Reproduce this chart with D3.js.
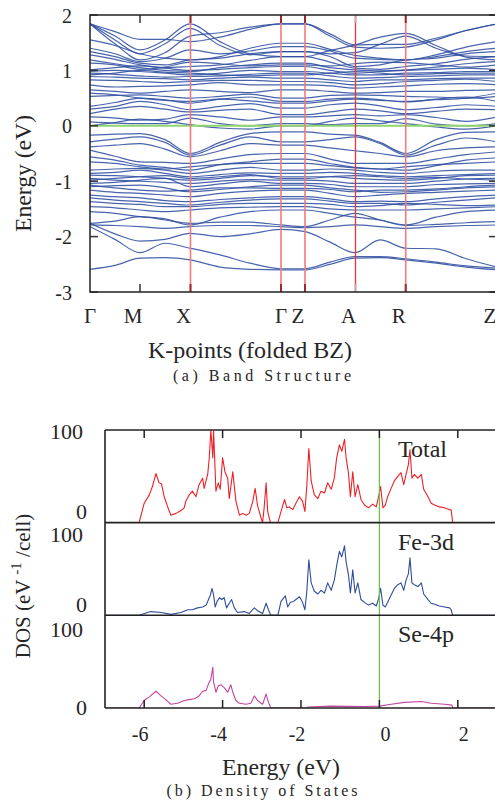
<!DOCTYPE html>
<html>
<head>
<meta charset="utf-8">
<script src="https://cdn.jsdelivr.net/npm/d3@7"></script>
<style>
  body { margin: 0; background: #fff; }
  text { font-family: "Liberation Serif", "Times New Roman", serif; fill: #262626; }
</style>
</head>
<body>
<svg width="495" height="802"></svg>
<script>
// ---- band structure data (path length units along the folded BZ path) ----
const kSamples = [0, 25, 50, 75, 100, 130, 160, 191, 215, 240, 265, 290, 316, 346, 376, 407];
const kLabels = ["Γ", "M", "X", "Γ", "Z", "A", "R", "Z"];
const kLabelPos = [0, 50, 100.5, 191, 215, 265.5, 315.7, 407];
const kGuides = [100.5, 191, 215, 265.5, 315.7];
const energyTicks = [-3, -2, -1, 0, 1, 2];

// energies (eV) of each band at kSamples
const bands = [
  [1.84,1.70,1.56,1.56,1.52,1.60,1.74,1.84, 1.84,1.66,1.46,1.47,1.47,1.58,1.72,1.84],
  [1.84,1.62,1.37,1.55,1.84,1.52,1.30,1.25, 1.25,1.36,1.46,1.60,1.67,1.45,1.24,1.19],
  [1.84,1.55,1.30,1.48,1.76,1.45,1.28,1.34, 1.34,1.30,1.32,1.47,1.62,1.40,1.26,1.25],
  [1.84,1.48,1.19,1.32,1.62,1.68,1.78,1.84, 1.84,1.62,1.42,1.40,1.42,1.55,1.72,1.84],
  [1.55,1.45,1.30,1.22,1.19,1.25,1.40,1.49, 1.49,1.38,1.27,1.22,1.19,1.28,1.42,1.52],
  [1.40,1.30,1.16,1.22,1.37,1.30,1.35,1.43, 1.43,1.35,1.22,1.20,1.19,1.25,1.34,1.40],
  [1.34,1.25,1.13,1.10,1.19,1.22,1.30,1.34, 1.34,1.25,1.07,1.10,1.19,1.22,1.30,1.34],
  [1.28,1.20,1.10,1.05,1.07,1.10,1.18,1.25, 1.25,1.15,1.04,1.02,1.07,1.12,1.20,1.25],
  [1.19,1.12,1.05,1.00,0.98,1.05,1.10,1.13, 1.13,1.05,1.01,0.99,1.01,1.06,1.12,1.16],
  [1.13,1.10,1.02,1.06,1.15,1.12,1.08,1.10, 1.10,1.08,1.12,1.15,1.14,1.10,1.06,1.10],
  [1.01,1.05,1.08,1.04,1.00,1.02,1.05,1.07, 1.07,1.00,0.95,0.98,1.00,1.02,1.04,1.01],
  [0.98,1.00,0.98,0.95,0.92,0.95,1.00,0.98, 0.98,0.95,0.92,0.92,0.95,0.96,0.98,0.98],
  [0.95,0.93,0.90,0.88,0.89,0.90,0.93,0.95, 0.95,0.90,0.86,0.87,0.89,0.90,0.92,0.92],
  [0.92,0.95,1.00,0.97,0.95,0.92,0.90,0.92, 0.92,0.95,0.98,0.95,0.92,0.94,0.95,0.95],
  [0.89,0.88,0.86,0.85,0.83,0.86,0.88,0.86, 0.86,0.83,0.80,0.83,0.83,0.85,0.86,0.86],
  [0.83,0.82,0.80,0.78,0.80,0.82,0.82,0.80, 0.80,0.78,0.74,0.76,0.80,0.82,0.84,0.80],
  [0.74,0.70,0.71,0.72,0.74,0.78,0.74,0.74, 0.74,0.72,0.68,0.70,0.72,0.75,0.76,0.74],
  [0.65,0.62,0.59,0.62,0.65,0.62,0.60,0.65, 0.65,0.62,0.59,0.60,0.62,0.62,0.64,0.65],
  [0.59,0.56,0.50,0.46,0.44,0.48,0.45,0.41, 0.41,0.45,0.48,0.46,0.44,0.47,0.50,0.59],
  [0.53,0.55,0.56,0.53,0.50,0.53,0.57,0.50, 0.50,0.55,0.56,0.55,0.53,0.52,0.50,0.53],
  [0.35,0.42,0.50,0.47,0.41,0.48,0.52,0.44, 0.44,0.48,0.50,0.47,0.43,0.48,0.52,0.44],
  [0.30,0.35,0.44,0.38,0.29,0.35,0.40,0.32, 0.32,0.38,0.41,0.36,0.29,0.33,0.38,0.35],
  [0.22,0.30,0.35,0.30,0.25,0.28,0.30,0.20, 0.20,0.25,0.30,0.27,0.22,0.26,0.30,0.29],
  [0.16,0.14,0.10,0.12,0.20,0.16,0.10,0.16, 0.16,0.18,0.20,0.18,0.20,0.15,0.08,0.16],
  [0.07,0.05,0.04,0.04,0.14,0.04,0.00,0.04, 0.04,0.02,0.04,0.04,0.13,0.03,0.00,0.04],
  [0.00,0.06,0.12,0.08,0.02,-0.04,-0.06,0.00, 0.00,0.08,0.14,0.09,0.04,-0.02,-0.06,0.00],
  [-0.17,-0.15,-0.14,-0.25,-0.50,-0.30,-0.14,-0.11, -0.11,-0.15,-0.17,-0.30,-0.50,-0.25,-0.12,-0.11],
  [-0.29,-0.24,-0.20,-0.30,-0.53,-0.35,-0.20,-0.29, -0.29,-0.25,-0.20,-0.32,-0.53,-0.35,-0.22,-0.29],
  [-0.38,-0.35,-0.32,-0.42,-0.56,-0.45,-0.32,-0.35, -0.35,-0.40,-0.45,-0.50,-0.56,-0.45,-0.40,-0.38],
  [-0.44,-0.55,-0.65,-0.66,-0.68,-0.60,-0.52,-0.50, -0.50,-0.60,-0.68,-0.68,-0.68,-0.60,-0.52,-0.47],
  [-0.56,-0.62,-0.71,-0.75,-0.80,-0.70,-0.65,-0.60, -0.60,-0.68,-0.75,-0.78,-0.80,-0.72,-0.62,-0.58],
  [-0.65,-0.68,-0.74,-0.78,-0.74,-0.70,-0.68,-0.68, -0.68,-0.72,-0.76,-0.78,-0.74,-0.70,-0.68,-0.65],
  [-0.80,-0.78,-0.77,-0.80,-0.86,-0.80,-0.75,-0.80, -0.80,-0.78,-0.80,-0.84,-0.86,-0.82,-0.80,-0.80],
  [-0.86,-0.84,-0.80,-0.86,-0.92,-0.88,-0.85,-0.86, -0.86,-0.84,-0.86,-0.90,-0.92,-0.90,-0.88,-0.86],
  [-0.89,-0.90,-0.92,-0.95,-0.98,-0.95,-0.90,-0.92, -0.92,-0.92,-0.95,-0.97,-0.98,-0.95,-0.90,-0.89],
  [-0.98,-0.95,-0.92,-0.90,-0.95,-0.92,-0.88,-0.95, -0.95,-0.92,-0.90,-0.92,-0.95,-0.93,-0.96,-0.98],
  [-0.95,-0.98,-1.00,-1.02,-1.04,-1.00,-0.97,-0.98, -0.98,-1.00,-1.04,-1.04,-1.04,-1.00,-0.96,-0.95],
  [-1.04,-1.02,-0.98,-0.95,-1.10,-1.05,-1.00,-1.04, -1.04,-1.06,-1.10,-1.10,-1.10,-1.06,-1.05,-1.04],
  [-1.10,-1.08,-1.07,-1.12,-1.19,-1.15,-1.10,-1.07, -1.07,-1.12,-1.16,-1.20,-1.19,-1.16,-1.12,-1.10],
  [-1.07,-1.12,-1.16,-1.18,-1.16,-1.12,-1.12,-1.13, -1.13,-1.15,-1.19,-1.16,-1.16,-1.14,-1.10,-1.07],
  [-1.16,-1.20,-1.22,-1.25,-1.28,-1.22,-1.18,-1.16, -1.16,-1.22,-1.28,-1.25,-1.22,-1.20,-1.18,-1.16],
  [-1.25,-1.28,-1.30,-1.35,-1.37,-1.33,-1.30,-1.28, -1.28,-1.32,-1.37,-1.36,-1.37,-1.32,-1.28,-1.25],
  [-1.30,-1.34,-1.37,-1.40,-1.43,-1.38,-1.34,-1.32, -1.32,-1.36,-1.40,-1.40,-1.43,-1.38,-1.34,-1.30],
  [-1.37,-1.40,-1.42,-1.46,-1.46,-1.42,-1.40,-1.40, -1.40,-1.42,-1.46,-1.44,-1.40,-1.42,-1.44,-1.43],
  [-1.46,-1.48,-1.52,-1.55,-1.52,-1.48,-1.47,-1.46, -1.46,-1.50,-1.52,-1.52,-1.52,-1.50,-1.48,-1.46],
  [-1.55,-1.58,-1.64,-1.68,-1.79,-1.65,-1.55,-1.52, -1.52,-1.58,-1.65,-1.70,-1.79,-1.65,-1.55,-1.52],
  [-1.76,-1.72,-1.64,-1.70,-1.76,-1.74,-1.74,-1.79, -1.82,-1.70,-1.58,-1.70,-1.80,-1.78,-1.75,-1.73],
  [-1.79,-1.80,-1.82,-1.85,-1.82,-1.80,-1.80,-1.82, -1.84,-1.82,-1.79,-1.82,-1.85,-1.82,-1.80,-1.79],
  [-1.76,-1.95,-2.08,-2.05,-1.94,-2.00,-1.95,-1.87, -1.91,-2.10,-2.29,-2.06,-2.21,-2.22,-2.40,-2.55],
  [-1.82,-2.05,-2.29,-2.12,-2.21,-2.33,-2.48,-2.58, -2.58,-2.46,-2.36,-2.36,-2.40,-2.46,-2.53,-2.57],
  [-2.59,-2.52,-2.39,-2.38,-2.42,-2.55,-2.59,-2.60, -2.60,-2.50,-2.39,-2.38,-2.42,-2.48,-2.55,-2.60]
];

// ---- density of states data ----
const dosTicks = [-6, -4, -2, 0, 2];

const totalE = [-7,-6.13,-6.0,-5.87,-5.79,-5.70,-5.62,-5.56,-5.49,-5.40,-5.32,-5.19,-5.06,-4.98,-4.94,-4.85,-4.77,-4.68,-4.60,-4.51,-4.47,-4.38,-4.34,-4.30,-4.25,-4.23,-4.17,-4.11,-4.06,-4.00,-3.94,-3.87,-3.83,-3.74,-3.66,-3.57,-3.49,-3.40,-3.32,-3.23,-3.17,-3.11,-3.02,-2.98,-2.94,-2.89,-2.85,-2.78,-2.59,-2.51,-2.42,-2.36,-2.30,-2.21,-2.13,-2.04,-1.96,-1.90,-1.85,-1.80,-1.74,-1.66,-1.57,-1.49,-1.40,-1.32,-1.23,-1.15,-1.09,-1.02,-0.96,-0.89,-0.85,-0.79,-0.74,-0.68,-0.62,-0.55,-0.47,-0.38,-0.28,-0.17,-0.08,-0.02,0.03,0.09,0.15,0.21,0.30,0.38,0.47,0.55,0.62,0.68,0.74,0.78,0.83,0.89,0.98,1.07,1.13,1.24,1.32,1.41,1.53,1.66,1.79,1.83,1.87,3];
const totalDOS = [0,0,21,30,39,53,43,42,28,17,8,10,13,16,23,30,34,28,41,48,37,52,70,100,70,99,34,43,36,70,55,48,26,55,23,8,10,8,10,23,37,19,5,0,16,43,12,0,0,12,25,16,17,14,21,28,23,12,41,80,45,30,26,34,32,43,36,48,70,84,77,90,70,54,28,55,28,41,25,19,16,20,17,28,39,16,19,28,37,45,50,54,41,52,63,79,48,52,48,52,36,28,21,19,17,16,14,14,0,0];

const feE = [-7,-6.13,-5.83,-5.57,-5.32,-5.06,-4.89,-4.77,-4.64,-4.51,-4.42,-4.36,-4.31,-4.27,-4.23,-4.19,-4.14,-4.08,-4.02,-3.96,-3.90,-3.83,-3.77,-3.70,-3.62,-3.45,-3.32,-3.19,-3.11,-2.98,-2.89,-2.83,-2.77,-2.59,-2.51,-2.40,-2.34,-2.27,-2.19,-2.13,-2.04,-1.96,-1.90,-1.85,-1.80,-1.74,-1.66,-1.57,-1.49,-1.40,-1.32,-1.23,-1.15,-1.08,-1.02,-0.96,-0.89,-0.85,-0.79,-0.74,-0.68,-0.62,-0.55,-0.47,-0.38,-0.28,-0.17,-0.08,-0.02,0.03,0.09,0.15,0.21,0.30,0.38,0.47,0.55,0.62,0.68,0.74,0.78,0.83,0.89,0.98,1.07,1.13,1.24,1.32,1.41,1.53,1.66,1.79,1.83,1.87,3];
const feDOS = [0,0,4,3,1,3,6,6,8,9,11,17,22,29,22,9,15,19,17,19,8,13,17,8,3,4,2,8,5,2,13,6,0,0,15,21,9,14,15,17,20,14,6,27,60,35,26,23,27,24,35,27,38,56,69,63,75,58,44,24,49,24,35,17,14,11,13,10,18,29,11,9,14,22,29,33,35,27,38,45,62,35,33,31,35,23,17,13,12,10,9,8,6,0,0];

const seE = [-7,-6.13,-6.0,-5.87,-5.70,-5.57,-5.45,-5.32,-5.15,-4.98,-4.85,-4.72,-4.60,-4.51,-4.42,-4.36,-4.30,-4.25,-4.23,-4.17,-4.11,-4.04,-3.96,-3.87,-3.79,-3.74,-3.66,-3.57,-3.40,-3.28,-3.19,-3.11,-2.98,-2.89,-2.83,-2.77,-1.84,-1.83,-1.23,-0.38,0.0,0.30,0.64,1.07,1.32,1.66,1.85,1.87,3];
const seDOS = [0,0,8,12,18,13,9,4,5,8,9,10,13,18,19,26,31,44,28,17,24,25,22,17,25,17,8,5,4,5,13,8,4,15,6,0,0,1,2,1.5,2,4,6,7,5,4,3,0,0];

const panels = [
  {name: "Total", e: totalE, v: totalDOS, color: "#ee2026", shift100: 2, shift0: -10.7},
  {name: "Fe-3d", e: feE, v: feDOS, color: "#2f4d9e", shift100: 12, shift0: -10},
  {name: "Se-4p", e: seE, v: seDOS, color: "#c2459e", shift100: 15, shift0: 0}
];

const svg = d3.select("svg");

// ================= (a) band structure =================
const bx = d3.scaleLinear().domain([0, 407]).range([90, 497]);
const by = d3.scaleLinear().domain([-3, 2]).range([292, 15]);

svg.append("clipPath").attr("id", "bandclip")
  .append("rect").attr("x", 90).attr("y", 15).attr("width", 407).attr("height", 277);

const band = svg.append("g").attr("class", "bands");

const bandLine = d3.line()
  .x(function(d, i) { return bx(kSamples[i]); })
  .y(function(d) { return by(d); })
  .curve(d3.curveMonotoneX);

band.append("g").attr("clip-path", "url(#bandclip)")
  .selectAll("path")
  .data(bands)
  .enter().append("path")
    .attr("d", bandLine)
    .attr("fill", "none")
    .attr("stroke", "#2f4fa2")
    .attr("stroke-opacity", 0.88)
    .attr("stroke-width", 1.2);

// Fermi level
band.append("line")
  .attr("x1", bx(0)).attr("x2", bx(407))
  .attr("y1", by(0)).attr("y2", by(0))
  .attr("stroke", "#8fd46c").attr("stroke-width", 2);

// high-symmetry guides
band.selectAll("line.guide")
  .data(kGuides)
  .enter().append("line")
    .attr("class", "guide")
    .attr("x1", function(d) { return bx(d); }).attr("x2", function(d) { return bx(d); })
    .attr("y1", 15).attr("y2", 292)
    .attr("stroke", function(d, i) { return i === 3 ? "#e8343a" : "#f27a7a"; })
    .attr("stroke-width", function(d, i) { return i === 3 ? 1.3 : 1.6; });

// top/bottom ticks on guides
[15, 284].forEach(function(y0) {
  band.selectAll(null)
    .data(kGuides)
    .enter().append("line")
      .attr("x1", function(d) { return bx(d); }).attr("x2", function(d) { return bx(d); })
      .attr("y1", y0).attr("y2", y0 + 8)
      .attr("stroke", function(d, i) { return i === 3 ? "#c9a9a9" : "#9b2a2e"; })
      .attr("stroke-width", 2);
  band.append("line")
    .attr("x1", bx(50)).attr("x2", bx(50))
    .attr("y1", y0).attr("y2", y0 + 8)
    .attr("stroke", "#333").attr("stroke-width", 1.5);
});

// energy ticks (left and right)
band.selectAll("line.ytick")
  .data(energyTicks)
  .enter().append("line")
    .attr("class", "ytick")
    .attr("x1", 90).attr("x2", 98)
    .attr("y1", function(d) { return by(d); }).attr("y2", function(d) { return by(d); })
    .attr("stroke", "#333").attr("stroke-width", 1.5);
band.selectAll("line.ytickr")
  .data(energyTicks)
  .enter().append("line")
    .attr("class", "ytickr")
    .attr("x1", 489).attr("x2", 497)
    .attr("y1", function(d) { return by(d); }).attr("y2", function(d) { return by(d); })
    .attr("stroke", "#333").attr("stroke-width", 1.5);

// frame
band.append("rect")
  .attr("x", 90).attr("y", 15).attr("width", 407).attr("height", 277)
  .attr("fill", "none").attr("stroke", "#222").attr("stroke-width", 1.5);

band.selectAll("text.ylab")
  .data(energyTicks)
  .enter().append("text")
    .attr("class", "ylab")
    .attr("x", 72)
    .attr("y", function(d) { return by(d) + 7.5; })
    .attr("text-anchor", "end")
    .attr("font-size", 20)
    .text(function(d) { return d; });

band.selectAll("text.klab")
  .data(kLabels)
  .enter().append("text")
    .attr("class", "klab")
    .attr("x", function(d, i) { return bx(kLabelPos[i]) + (d === "Γ" ? 0 : -7); })
    .attr("y", 323)
    .attr("text-anchor", "middle")
    .attr("font-size", 21)
    .text(function(d) { return d; });

band.append("text")
  .attr("transform", "translate(31,173.5) rotate(-90)")
  .attr("text-anchor", "middle")
  .attr("font-size", 23)
  .attr("textLength", 117).attr("lengthAdjust", "spacingAndGlyphs")
  .text("Energy (eV)");

band.append("text")
  .attr("x", 250).attr("y", 358)
  .attr("text-anchor", "middle")
  .attr("font-size", 23)
  .attr("textLength", 204).attr("lengthAdjust", "spacingAndGlyphs")
  .text("K-points (folded BZ)");

svg.append("text")
  .attr("x", 262).attr("y", 381)
  .attr("text-anchor", "middle")
  .attr("font-size", 16)
  .attr("fill", "#444")
  .attr("textLength", 178).attr("lengthAdjust", "spacing")
  .text("(a) Band Structure");

// ================= (b) density of states =================
const dx = d3.scaleLinear().domain([-7, 3]).range([105, 497]);
const panelTop = 430, panelH = 92.65;

const dos = svg.append("g").attr("class", "dos");

panels.forEach(function(p, pi) {
  const top = panelTop + pi * panelH;
  const y = d3.scaleLinear().domain([0, 100]).range([top + panelH, top]);

  dos.append("clipPath").attr("id", "dclip" + pi)
    .append("rect").attr("x", 105).attr("y", top).attr("width", 392).attr("height", panelH);

  const line = d3.line()
    .x(function(d, i) { return dx(p.e[i]); })
    .y(function(d) { return y(d); });

  dos.append("path")
    .datum(p.v)
    .attr("clip-path", "url(#dclip" + pi + ")")
    .attr("d", line)
    .attr("fill", "none")
    .attr("stroke", p.color)
    .attr("stroke-width", 1.1)
    .attr("stroke-linejoin", "round");

  dos.append("text")
    .attr("x", 83).attr("y", y(100) + p.shift100 + 7)
    .attr("text-anchor", "end").attr("font-size", 22)
    .text("100");
  dos.append("text")
    .attr("x", 87).attr("y", y(0) + p.shift0 + 7)
    .attr("text-anchor", "end").attr("font-size", 22)
    .text("0");

  dos.append("text")
    .attr("x", 398).attr("y", top + [27, 27.5, 27][pi])
    .attr("font-size", 24)
    .text(p.name);
});

// Fermi level
dos.append("line")
  .attr("x1", dx(0)).attr("x2", dx(0))
  .attr("y1", panelTop).attr("y2", panelTop + 3 * panelH)
  .attr("stroke", "#6cc24a").attr("stroke-width", 1.3);

// ticks: top of first panel, bottom of last panel
dos.selectAll("line.tt")
  .data(dosTicks)
  .enter().append("line")
    .attr("class", "tt")
    .attr("x1", function(d) { return dx(d); }).attr("x2", function(d) { return dx(d); })
    .attr("y1", panelTop).attr("y2", panelTop + 8)
    .attr("stroke", "#222").attr("stroke-width", 1.5);
dos.selectAll("line.bt")
  .data(dosTicks)
  .enter().append("line")
    .attr("class", "bt")
    .attr("x1", function(d) { return dx(d); }).attr("x2", function(d) { return dx(d); })
    .attr("y1", panelTop + 3 * panelH - 8).attr("y2", panelTop + 3 * panelH)
    .attr("stroke", "#222").attr("stroke-width", 1.5);

// frame lines
[0, 1, 2, 3].forEach(function(i) {
  dos.append("line")
    .attr("x1", 105).attr("x2", 497)
    .attr("y1", panelTop + i * panelH).attr("y2", panelTop + i * panelH)
    .attr("stroke", "#222").attr("stroke-width", 1.6);
});
dos.append("line")
  .attr("x1", 105).attr("x2", 105)
  .attr("y1", panelTop).attr("y2", panelTop + 3 * panelH)
  .attr("stroke", "#222").attr("stroke-width", 1.6);

dos.selectAll("text.xl")
  .data(dosTicks)
  .enter().append("text")
    .attr("class", "xl")
    .attr("x", function(d) { return dx(d) + (d < 0 ? -4 : 6); })
    .attr("y", 741)
    .attr("text-anchor", "middle")
    .attr("font-size", 20)
    .text(function(d) { return d; });

const ylab = dos.append("text")
  .attr("transform", "translate(30,586) rotate(-90)")
  .attr("text-anchor", "middle")
  .attr("font-size", 21);
ylab.append("tspan").text("DOS (eV ");
ylab.append("tspan").attr("dy", -9).attr("font-size", 15).text("-1");
ylab.append("tspan").attr("dy", 9).text(" /cell)");

dos.append("text")
  .attr("x", 281).attr("y", 775)
  .attr("text-anchor", "middle")
  .attr("font-size", 23)
  .attr("textLength", 118).attr("lengthAdjust", "spacingAndGlyphs")
  .text("Energy (eV)");

svg.append("text")
  .attr("x", 262).attr("y", 796)
  .attr("text-anchor", "middle")
  .attr("font-size", 16)
  .attr("fill", "#444")
  .attr("textLength", 191).attr("lengthAdjust", "spacing")
  .text("(b) Density of States");
</script>
</body>
</html>
